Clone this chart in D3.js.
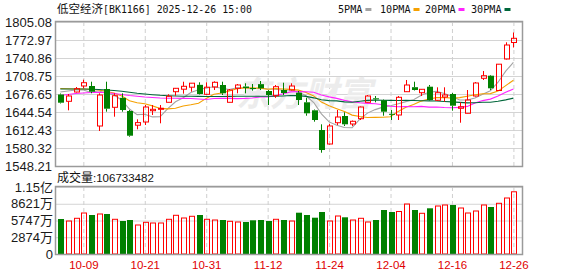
<!DOCTYPE html>
<html>
<head>
<meta charset="utf-8">
<script src="https://cdn.jsdelivr.net/npm/d3@7"></script>
<style>
  body { margin: 0; background: #fff; }
  svg { display: block; }
</style>
</head>
<body>
<svg width="578" height="276"></svg>
<script>
// trading days shown on the chart
const dates = ["09-26","09-29","09-30","10-09","10-10","10-13","10-14","10-15","10-16","10-17",
  "10-20","10-21","10-22","10-23","10-24","10-27","10-28","10-29","10-30","10-31",
  "11-03","11-04","11-05","11-06","11-07","11-10","11-11","11-12","11-13","11-14",
  "11-17","11-18","11-19","11-20","11-21","11-24","11-25","11-26","11-27","11-28",
  "12-01","12-02","12-03","12-04","12-05","12-08","12-09","12-10","12-11","12-12",
  "12-15","12-16","12-17","12-18","12-19","12-22","12-23","12-24","12-25","12-26"];

const open = [1675.75,1663.62,1680.21,1690.92,1690.92,1619.56,1685.56,1652.92,1669.80,1646.32,
  1620.98,1626.69,1646.85,1649.35,1661.84,1680.75,1685.21,1688.78,1692.98,1676.11,
  1689.13,1692.70,1661.84,1686.81,1690.02,1687.35,1694.20,1681.99,1673.61,1683.78,
  1683.78,1678.96,1661.84,1647.56,1612.42,1587.45,1625.42,1637.40,1623.13,1632.57,
  1661.84,1668.97,1665.40,1641.32,1639.18,1680.75,1688.78,1678.96,1689.67,1665.40,
  1671.29,1676.64,1651.13,1642.21,1673.08,1704.65,1709.29,1682.89,1739.08,1768.51];

const close = [1661.12,1673.08,1686.10,1696.80,1680.75,1674.86,1650.42,1673.61,1648.10,1602.25,
  1625.62,1653.45,1649.35,1651.13,1672.54,1686.81,1690.38,1695.92,1676.64,1688.78,
  1697.51,1677.89,1683.78,1692.70,1687.35,1686.28,1686.81,1674.86,1689.67,1678.43,
  1690.92,1665.94,1642.21,1630.26,1576.74,1619.56,1635.61,1622.59,1627.95,1653.45,
  1673.08,1667.19,1645.07,1640.07,1670.75,1692.70,1683.78,1685.03,1665.94,1678.96,
  1674.86,1655.77,1653.99,1665.94,1696.27,1709.29,1686.81,1729.81,1764.05,1776.00];

const high = [1677.54,1676.64,1689.13,1702.16,1698.59,1677.89,1698.59,1677.89,1677.89,1648.10,
  1631.51,1657.02,1657.02,1657.02,1676.11,1687.35,1698.59,1696.28,1697.51,1697.51,
  1699.30,1698.59,1685.56,1694.48,1695.74,1694.48,1699.83,1683.78,1692.70,1696.80,
  1695.74,1681.99,1670.04,1648.99,1622.59,1623.13,1648.10,1643.99,1629.37,1654.34,
  1674.86,1673.08,1666.83,1648.10,1673.08,1701.62,1698.59,1685.56,1692.70,1688.60,
  1688.60,1678.43,1661.84,1683.78,1698.05,1717.67,1710.54,1730.16,1768.87,1786.34];

const low = [1659.70,1647.56,1679.32,1686.81,1677.89,1610.64,1645.07,1636.15,1645.07,1600.47,
  1613.67,1621.34,1639.18,1624.37,1661.48,1673.61,1677.18,1680.75,1675.75,1674.86,
  1683.78,1674.86,1661.48,1677.89,1677.89,1682.53,1683.78,1657.02,1669.80,1674.86,
  1682.89,1657.02,1637.93,1627.23,1571.92,1586.56,1621.34,1619.56,1619.56,1630.26,
  1661.48,1661.84,1637.93,1630.26,1630.26,1680.21,1682.89,1673.08,1665.05,1664.15,
  1662.91,1646.85,1625.42,1641.85,1672.19,1701.62,1683.78,1682.53,1738.19,1759.59];

// volume in 万
const volume = [6005,5662,6125,7034,6691,6863,6863,5954,5662,5833,
  4976,5439,5319,5319,5954,6640,6177,6468,6691,5954,
  5833,5833,5610,5490,5490,5782,5833,5662,5954,5833,
  5662,7086,6691,6228,7206,5662,6520,6297,5833,6125,
  5490,5833,7549,7206,7292,8579,7549,6983,7841,8235,
  8407,8407,7892,7034,7378,8407,8064,8699,9608,10673];

const ma5 = [1680.21,1682.00,1683.78,1683.78,1679.50,1682.35,1677.71,1675.21,1665.58,1649.88,
  1639.89,1640.61,1635.79,1636.33,1650.42,1662.73,1670.04,1679.14,1684.31,1687.35,
  1689.49,1686.99,1684.67,1687.88,1687.88,1685.56,1687.35,1685.56,1685.03,1683.24,
  1684.14,1680.04,1673.44,1661.48,1641.14,1626.87,1620.80,1616.88,1616.52,1631.86,
  1642.57,1648.81,1653.27,1655.77,1659.16,1663.08,1666.47,1674.50,1679.67,1681.28,
  1677.71,1672.18,1665.94,1665.94,1669.33,1676.29,1682.53,1697.69,1717.31,1733.19];

const ma10 = [1686.46,1685.92,1685.56,1685.56,1685.03,1683.78,1681.10,1678.43,1673.08,1664.69,
  1661.13,1659.17,1655.42,1650.96,1650.06,1651.31,1655.24,1657.38,1660.23,1668.80,
  1676.11,1678.43,1682.00,1686.10,1687.53,1687.53,1687.17,1685.21,1686.46,1685.56,
  1684.85,1683.60,1679.50,1673.26,1662.20,1655.60,1650.42,1645.25,1639.00,1636.51,
  1634.72,1634.90,1635.08,1636.15,1645.60,1652.92,1657.73,1663.98,1667.72,1670.22,
  1670.40,1669.33,1670.22,1672.72,1675.39,1677.00,1677.36,1681.82,1691.62,1701.27];

const ma20 = [1673.97,1675.75,1677.54,1678.43,1679.32,1679.68,1679.32,1677.54,1675.75,1673.97,
  1672.54,1671.29,1670.40,1669.51,1669.15,1668.97,1668.79,1668.62,1667.72,1666.83,
  1668.62,1668.79,1668.79,1668.44,1668.79,1669.51,1671.29,1671.29,1673.43,1677.18,
  1680.39,1681.10,1680.75,1679.68,1674.86,1671.47,1668.79,1665.23,1662.73,1660.95,
  1659.88,1659.34,1657.38,1654.70,1653.81,1654.17,1653.99,1654.52,1653.27,1653.45,
  1652.56,1652.02,1652.74,1654.52,1660.41,1664.87,1667.54,1672.90,1679.68,1685.74];

const ma30 = [1685.56,1685.56,1685.56,1685.56,1685.03,1684.67,1683.78,1682.89,1681.46,1679.68,
  1677.89,1676.64,1675.39,1674.32,1673.61,1673.08,1672.72,1672.54,1672.36,1672.18,
  1672.18,1672.18,1672.36,1672.54,1672.72,1672.72,1672.72,1672.72,1672.90,1673.08,
  1673.97,1673.79,1672.36,1669.80,1666.41,1664.87,1664.33,1662.55,1662.01,1663.62,
  1665.23,1665.76,1665.58,1665.23,1665.05,1665.23,1665.05,1664.69,1664.33,1664.15,
  1663.26,1662.55,1661.66,1660.77,1660.94,1661.84,1661.84,1663.62,1666.12,1669.33];

const priceTicks = [1805.08,1772.97,1740.86,1708.75,1676.65,1644.54,1612.43,1580.32,1548.21];
const volTicks = [0,2874,5747,8621,11495];
const volTickLabels = ["0","2874万","5747万","8621万","1.15亿"];
const dateTicks = ["10-09","10-21","10-31","11-12","11-24","12-04","12-16","12-26"];

const maNames = ["5PMA","10PMA","20PMA","30PMA"];
const maColors = ["#a3a3a3","#f5a000","#ff22ff","#00663a"];

const upColor = "#ff0000", downColor = "#008000";

// layout
const svg = d3.select("svg");
const left = 56, right = 522,
    priceTop = 22, priceBottom = 166,
    volTop = 187, volBottom = 254;

const x = d3.scalePoint().domain(dates).range([60.3, 513.4]);
const y = d3.scaleLinear().domain([1548.21, 1805.08]).range([priceBottom, priceTop]);
const yv = d3.scaleLinear().domain([0, 11495]).range([volBottom, volTop]);

const candles = dates.map((d, i) => ({
    date: d, open: open[i], close: close[i], high: high[i], low: low[i], vol: volume[i],
    up: close[i] >= open[i]
}));

const labelFont = "'Liberation Sans', 'Noto Sans CJK SC', sans-serif";

// horizontal grid, price panel
svg.append("g")
    .attr("transform", `translate(${left},0)`)
    .call(d3.axisLeft(y).tickValues(priceTicks).tickSize(-(right - left)).tickFormat(""))
    .call(g => g.select(".domain").remove())
    .call(g => g.selectAll("line").attr("stroke", "#d4d4d4"));

// horizontal grid, volume panel
svg.append("g")
    .attr("transform", `translate(${left},0)`)
    .call(d3.axisLeft(yv).tickValues(volTicks).tickSize(-(right - left)).tickFormat(""))
    .call(g => g.select(".domain").remove())
    .call(g => g.selectAll("line").attr("stroke", "#d4d4d4"));

// vertical dashed grid in both panels
[[priceTop, priceBottom], [volTop, volBottom]].forEach(([t, b]) => {
    svg.append("g")
        .attr("transform", `translate(0,${b})`)
        .call(d3.axisBottom(x).tickValues(dateTicks).tickSize(-(b - t)).tickFormat(""))
        .call(g => g.select(".domain").remove())
        .call(g => g.selectAll("line").attr("stroke", "#cfcfcf").attr("stroke-dasharray", "4,3"));
});

// faint site watermark
svg.append("text")
    .attr("x", 236).attr("y", 106)
    .attr("font-family", "'Noto Sans CJK SC', sans-serif")
    .attr("font-size", 34).attr("font-weight", "bold").attr("font-style", "italic")
    .attr("fill", "#ececec")
    .text("东方财富");

// moving averages
[ma5, ma10, ma20, ma30].forEach((ma, k) => {
    svg.append("path")
        .datum(ma)
        .attr("fill", "none")
        .attr("stroke", maColors[k])
        .attr("stroke-width", 1.1)
        .attr("d", d3.line().x((d, i) => x(dates[i])).y(d => y(d)));
});

// candles: wick then body
const cg = svg.append("g");
cg.selectAll("line.hi").data(candles).join("line")
    .attr("x1", d => Math.round(x(d.date)) + 0.5).attr("x2", d => Math.round(x(d.date)) + 0.5)
    .attr("y1", d => y(d.high)).attr("y2", d => y(Math.max(d.open, d.close)))
    .attr("stroke", d => d.up ? upColor : downColor);
cg.selectAll("line.lo").data(candles).join("line")
    .attr("x1", d => Math.round(x(d.date)) + 0.5).attr("x2", d => Math.round(x(d.date)) + 0.5)
    .attr("y1", d => y(Math.min(d.open, d.close))).attr("y2", d => y(d.low))
    .attr("stroke", d => d.up ? upColor : downColor);
cg.selectAll("rect").data(candles).join("rect")
    .attr("x", d => d.up ? Math.round(x(d.date)) - 2 + 0.5 : Math.round(x(d.date)) - 2)
    .attr("width", d => d.up ? 5 : 6)
    .attr("y", d => y(Math.max(d.open, d.close)))
    .attr("height", d => Math.max(1, y(Math.min(d.open, d.close)) - y(Math.max(d.open, d.close))))
    .attr("fill", d => d.up ? "#fff" : downColor)
    .attr("stroke", d => d.up ? upColor : "none")
    .attr("fill-opacity", d => d.up ? 0 : 1);

// volume bars
svg.append("g").selectAll("rect").data(candles).join("rect")
    .attr("x", d => d.up ? Math.round(x(d.date)) - 2 + 0.5 : Math.round(x(d.date)) - 2)
    .attr("width", d => d.up ? 5 : 6)
    .attr("y", d => yv(d.vol))
    .attr("height", d => volBottom - yv(d.vol))
    .attr("fill", d => d.up ? "none" : downColor)
    .attr("stroke", d => d.up ? upColor : "none");

// panel borders
[[priceTop, priceBottom], [volTop, volBottom]].forEach(([t, b]) => {
    svg.append("rect")
        .attr("x", left - 0.5).attr("y", t - 0.5)
        .attr("width", right - left + 1).attr("height", b - t + 1)
        .attr("fill", "none").attr("stroke", "#9a9a9a").attr("stroke-width", 1.5);
});

// price labels
svg.append("g")
    .attr("transform", `translate(${left},0)`)
    .call(d3.axisLeft(y).tickValues(priceTicks).tickSize(0).tickPadding(4).tickFormat(d3.format(".2f")))
    .call(g => g.select(".domain").remove())
    .call(g => g.selectAll("text").attr("font-family", labelFont).attr("font-size", 13).attr("fill", "#1a1a1a"));

// volume labels
svg.append("g")
    .attr("transform", `translate(${left},0)`)
    .call(d3.axisLeft(yv).tickValues(volTicks).tickSize(0).tickPadding(3).tickFormat((d, i) => volTickLabels[i]))
    .call(g => g.select(".domain").remove())
    .call(g => g.selectAll("text").attr("font-family", labelFont).attr("font-size", 13).attr("fill", "#1a1a1a"));

// date labels
svg.append("g")
    .attr("transform", `translate(0,${volBottom})`)
    .call(d3.axisBottom(x).tickValues(dateTicks).tickSize(0).tickPadding(7))
    .call(g => g.select(".domain").remove())
    .call(g => g.selectAll("text").attr("font-family", labelFont).attr("font-size", 11.5).attr("fill", "#e00000"));

// title
const title = svg.append("text").attr("x", 57).attr("y", 13).attr("fill", "#111");
title.append("tspan").attr("font-family", "'Noto Sans CJK SC', sans-serif").attr("font-size", 11.5).text("低空经济");
title.append("tspan").attr("font-family", "'DejaVu Sans Mono', monospace").attr("font-size", 11)
    .attr("textLength", 149).attr("lengthAdjust", "spacingAndGlyphs")
    .text("[BK1166] 2025-12-26  15:00");

// legend
const legendX = [338, 380, 425, 471];
const lg = svg.append("g");
maNames.forEach((name, k) => {
    lg.append("text")
        .attr("x", legendX[k]).attr("y", 13)
        .attr("font-family", "'DejaVu Sans Mono', monospace").attr("font-size", 11)
        .attr("textLength", name.length * 6.1).attr("lengthAdjust", "spacingAndGlyphs")
        .attr("fill", "#111")
        .text(name);
    lg.append("rect")
        .attr("x", legendX[k] + name.length * 6.1 + 3).attr("y", 8)
        .attr("width", 6).attr("height", 3)
        .attr("fill", maColors[k]);
});

// volume caption
const cap = svg.append("text").attr("x", 57).attr("y", 182).attr("fill", "#111");
cap.append("tspan").attr("font-family", "'Noto Sans CJK SC', sans-serif").attr("font-size", 12).text("成交量");
cap.append("tspan").attr("font-family", labelFont).attr("font-size", 11.5).text(":106733482");
</script>
</body>
</html>
